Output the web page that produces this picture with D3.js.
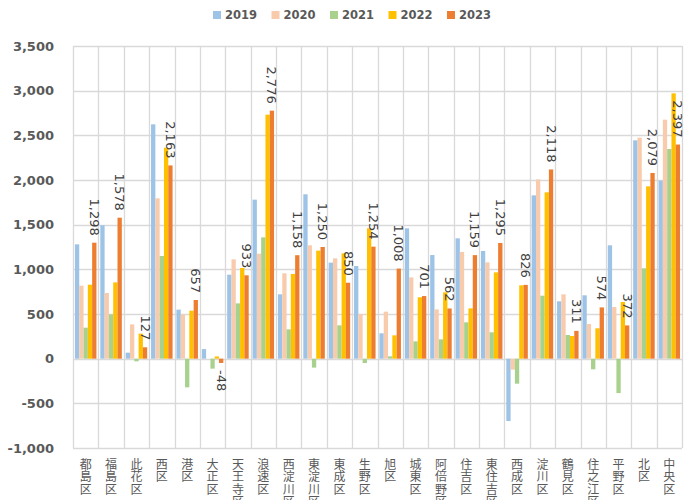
<!DOCTYPE html>
<html>
<head>
<meta charset="utf-8">
<script src="https://cdn.jsdelivr.net/npm/d3@7"></script>
<style>
  body { margin: 0; background: #fff; }
  svg { display: block; }
</style>
</head>
<body>
<svg id="chart"></svg>
<script>
// wards of Osaka city
const wards = ['都島区', '福島区', '此花区', '西区', '港区', '大正区', '天王寺区', '浪速区',
    '西淀川区', '東淀川区', '東成区', '生野区', '旭区', '城東区', '阿倍野区', '住吉区',
    '東住吉区', '西成区', '淀川区', '鶴見区', '住之江区', '平野区', '北区', '中央区'];

const years = ['2019', '2020', '2021', '2022', '2023'];

const v2019 = [1280, 1493, 67, 2623, 549, 107, 940, 1780, 720, 1840, 1075, 1037, 284, 1459, 1160, 1347, 1205, -698, 1828, 642, 709, 1269, 2444, 1993];
const v2020 = [817, 735, 384, 1795, 496, 0, 1112, 1175, 955, 1269, 1123, 500, 526, 910, 552, 1194, 1078, -123, 2007, 720, 388, 578, 2474, 2675];
const v2021 = [347, 496, -30, 1149, -321, -112, 619, 1358, 328, -100, 373, -49, 26, 194, 216, 407, 295, -280, 705, 265, -119, -385, 1011, 2347];
const v2022 = [828, 854, 280, 2362, 537, 25, 1015, 2731, 948, 1209, 1179, 1459, 261, 687, 743, 563, 966, 821, 1862, 254, 340, 634, 1929, 2970];
const v2023 = [1298, 1578, 127, 2163, 657, -48, 933, 2776, 1158, 1250, 850, 1254, 1008, 701, 562, 1159, 1295, 826, 2118, 311, 574, 372, 2079, 2397];

const yTicks = [-1000, -500, 0, 500, 1000, 1500, 2000, 2500, 3000, 3500];
const colors = ['#9dc3e6', '#f8cbad', '#a9d18e', '#ffc000', '#ed7d31'];

const seriesValues = [v2019, v2020, v2021, v2022, v2023];
const data = wards.map((w, i) => ({
    ward: w,
    values: years.map((y, j) => ({ year: y, value: seriesValues[j][i] }))
}));

const containerWidth = 685, containerHeight = 500;
const margin = { top: 46, right: 3, bottom: 52, left: 73 };
const width = containerWidth - margin.left - margin.right;
const height = containerHeight - margin.top - margin.bottom;

const svg = d3.select('#chart')
    .attr('width', containerWidth)
    .attr('height', containerHeight);

const chart = svg.append('g')
    .attr('transform', `translate(${margin.left},${margin.top})`);

const xScale = d3.scaleBand().domain(wards).range([0, width]).padding(0);
const xInner = d3.scaleBand().domain(years).range([0, xScale.bandwidth()]).paddingOuter(0.45).paddingInner(0);
const yScale = d3.scaleLinear().domain([-1000, 3500]).range([height, 0]);
const colorScale = d3.scaleOrdinal().domain(years).range(colors);
// plain hyphen for negatives, like the original
const fmt = d3.formatLocale({ decimal: '.', thousands: ',', grouping: [3], currency: ['', ''], minus: '-' }).format(',');

// gridlines
chart.append('g')
    .selectAll('line.h')
    .data(yTicks)
    .join('line')
        .attr('x1', 0).attr('x2', width)
        .attr('y1', d => Math.round(yScale(d)) + 0.5)
        .attr('y2', d => Math.round(yScale(d)) + 0.5)
        .attr('stroke', '#d9d9d9')
        .attr('stroke-width', 1.3);

chart.append('g')
    .selectAll('line.v')
    .data(wards.map(w => xScale(w)).concat([width]))
    .join('line')
        .attr('x1', d => Math.round(d) + 0.5).attr('x2', d => Math.round(d) + 0.5)
        .attr('y1', 0).attr('y2', height)
        .attr('stroke', '#d9d9d9')
        .attr('stroke-width', 1.3);

// y axis labels
const yAxis = d3.axisLeft(yScale).tickValues(yTicks).tickFormat(fmt).tickSize(0).tickPadding(19);
const yAxisG = chart.append('g').call(yAxis);
yAxisG.select('.domain').remove();
yAxisG.selectAll('text')
    .attr('font-family', 'DejaVu Sans, sans-serif')
    .attr('font-weight', 'bold')
    .attr('font-size', 13)
    .attr('fill', '#595959');

// bars
const groups = chart.append('g')
    .selectAll('g')
    .data(data)
    .join('g')
        .attr('transform', d => `translate(${xScale(d.ward)},0)`);

groups.selectAll('rect')
    .data(d => d.values)
    .join('rect')
        .attr('x', d => xInner(d.year))
        .attr('width', xInner.bandwidth())
        .attr('y', d => yScale(Math.max(0, d.value)))
        .attr('height', d => Math.abs(yScale(d.value) - yScale(0)))
        .attr('fill', d => colorScale(d.year));

// value labels for 2023
groups.append('text')
    .datum(d => d.values[4])
    .attr('transform', d => {
        const cx = xInner(d.year) + xInner.bandwidth() / 2;
        const y = d.value >= 0 ? yScale(d.value) - 7 : yScale(d.value) + 7;
        return `translate(${cx},${y}) rotate(90)`;
    })
    .attr('text-anchor', d => d.value >= 0 ? 'end' : 'start')
    .attr('dominant-baseline', 'central')
    .attr('font-family', 'DejaVu Sans, sans-serif')
    .attr('font-size', 13)
    .attr('fill', '#404040')
    .text(d => fmt(d.value));

// x labels, one character per line
const xLabels = chart.append('g')
    .selectAll('text')
    .data(wards)
    .join('text')
        .attr('x', d => xScale(d) + xScale.bandwidth() / 2)
        .attr('y', height + 10)
        .attr('text-anchor', 'middle')
        .attr('font-family', 'Noto Sans CJK JP, sans-serif')
        .attr('font-size', 12)
        .attr('fill', '#595959');

xLabels.selectAll('tspan')
    .data(d => Array.from(d))
    .join('tspan')
        .attr('x', function() { return this.parentNode.getAttribute('x'); })
        .attr('dy', (d, i) => i === 0 ? '0.9em' : '1.03em')
        .text(d => d);

// legend
const legend = svg.append('g')
    .attr('transform', 'translate(213,15)');

const items = legend.selectAll('g')
    .data(years)
    .join('g')
        .attr('transform', (d, i) => `translate(${i * 58.5},0)`);

items.append('rect')
    .attr('x', 0).attr('y', -4)
    .attr('width', 8).attr('height', 8)
    .attr('fill', d => colorScale(d));

items.append('text')
    .attr('x', 12).attr('y', 0)
    .attr('dominant-baseline', 'central')
    .attr('font-family', 'DejaVu Sans, sans-serif')
    .attr('font-weight', 'bold')
    .attr('font-size', 11.5)
    .attr('fill', '#595959')
    .text(d => d);
</script>
</body>
</html>
